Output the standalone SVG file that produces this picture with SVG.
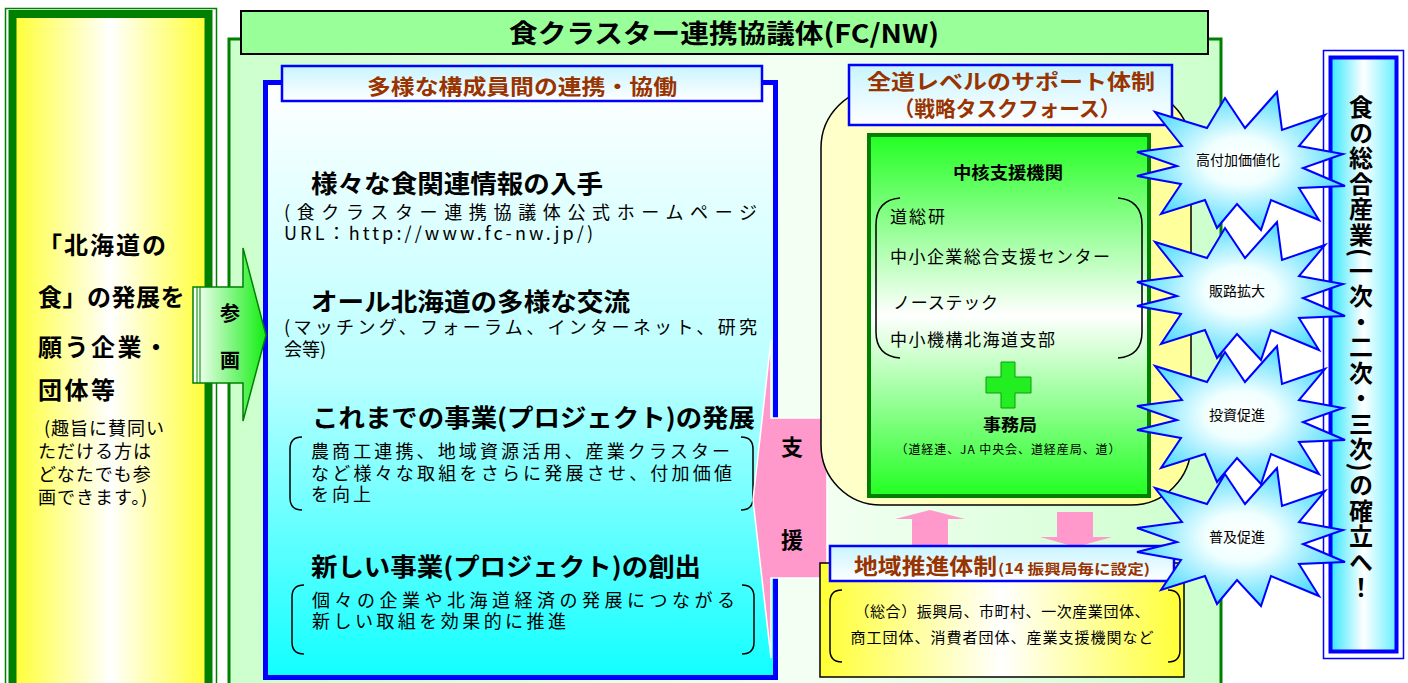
<svg xmlns="http://www.w3.org/2000/svg" width="1408" height="683" viewBox="0 0 1408 683">
<defs>
<linearGradient id="gYel" x1="0" y1="0" x2="1" y2="0"><stop offset="0" stop-color="#ffff33"/><stop offset="0.5" stop-color="#ffffff"/><stop offset="1" stop-color="#ffff33"/></linearGradient>
<linearGradient id="gMain" x1="0" y1="0" x2="1" y2="0"><stop offset="0" stop-color="#ccffcc"/><stop offset="0.58" stop-color="#f4fff4"/><stop offset="1" stop-color="#ccffcc"/></linearGradient>
<linearGradient id="gBlue" x1="0" y1="0" x2="0" y2="1"><stop offset="0" stop-color="#ffffff"/><stop offset="0.5" stop-color="#b8ffff"/><stop offset="1" stop-color="#11ffff"/></linearGradient>
<linearGradient id="gTab" x1="0" y1="0" x2="0" y2="1"><stop offset="0" stop-color="#c8f4ff"/><stop offset="1" stop-color="#ffffff"/></linearGradient>
<linearGradient id="gArrowG" x1="0" y1="0" x2="1" y2="0"><stop offset="0" stop-color="#ffffff"/><stop offset="1" stop-color="#11ee11"/></linearGradient>
<linearGradient id="gRound" x1="0" y1="0" x2="1" y2="0"><stop offset="0" stop-color="#ffffcc"/><stop offset="1" stop-color="#ffff99"/></linearGradient>
<linearGradient id="gGreen" x1="0" y1="0" x2="0" y2="1"><stop offset="0" stop-color="#22ff22"/><stop offset="0.5" stop-color="#ffffff"/><stop offset="1" stop-color="#22ff22"/></linearGradient>
<linearGradient id="gRight" x1="0" y1="0" x2="1" y2="0"><stop offset="0" stop-color="#33e8ff"/><stop offset="0.5" stop-color="#ffffff"/><stop offset="1" stop-color="#66f0ff"/></linearGradient>
<radialGradient id="gStar" cx="0.5" cy="0.5" r="0.5"><stop offset="0" stop-color="#ffffff"/><stop offset="0.35" stop-color="#f0ffff"/><stop offset="1" stop-color="#55dcff"/></radialGradient>
<polygon id="star" points="-100,-8 -55,-14 -82,-48 -30,-32 -12,-62 8,-32 40,-68 45,-30 88,-45 62,-14 106,-6 66,8 108,26 62,28 82,60 34,40 24,70 0,44 -20,68 -32,40 -76,54 -56,24 -100,16 -60,6"/>
</defs>
<style>
text{font-family:"Noto Sans CJK JP","Noto Sans",sans-serif;fill:#000}
.b{font-weight:bold}
.br{font-weight:bold;fill:#993300}
.bk{fill:none;stroke:#000;stroke-width:1.5}
.tab{fill:url(#gTab);stroke:#0000ff;stroke-width:2.5}
.pink{fill:#ff99cc}
.star{fill:url(#gStar);stroke:#0000ff;stroke-width:2}
</style>
<rect width="1408" height="683" fill="#ffffff"/>

<g id="fcnw">
<rect x="229" y="39" width="992" height="660" fill="url(#gMain)" stroke="#008000" stroke-width="3"/>
<rect x="241" y="11" width="967" height="43" fill="#99ff99" stroke="#000" stroke-width="2"/>
<text class="b" x="724" y="43" font-size="26" text-anchor="middle" textLength="430" lengthAdjust="spacingAndGlyphs">食クラスター連携協議体(FC/NW)</text>
</g>

<g id="renkei">
<rect x="265.5" y="82.5" width="510" height="595" fill="url(#gBlue)" stroke="#0000ff" stroke-width="5"/>
<rect x="282" y="66" width="480" height="35" class="tab"/>
<text class="br" x="522" y="94" font-size="21" text-anchor="middle" textLength="310" lengthAdjust="spacingAndGlyphs">多様な構成員間の連携・協働</text>
<text class="b" x="311" y="193" font-size="25" textLength="292" lengthAdjust="spacingAndGlyphs">様々な食関連情報の入手</text>
<text x="284" y="219" font-size="18" textLength="473" lengthAdjust="spacing">(食クラスター連携協議体公式ホームページ</text>
<text x="284" y="240" font-size="18" textLength="309" lengthAdjust="spacing">URL：http://www.fc-nw.jp/)</text>
<text class="b" x="311" y="311" font-size="25" textLength="319" lengthAdjust="spacingAndGlyphs">オール北海道の多様な交流</text>
<text x="284" y="334" font-size="18" textLength="473" lengthAdjust="spacing">(マッチング、フォーラム、インターネット、研究</text>
<text x="284" y="356" font-size="18">会等)</text>
<text class="b" x="312" y="427" font-size="25" textLength="443" lengthAdjust="spacingAndGlyphs">これまでの事業(プロジェクト)の発展</text>
<path class="bk" d="M302,437 Q290,437 290,449 L290,498 Q290,510 302,510"/>
<path class="bk" d="M741,437 Q753,437 753,449 L753,498 Q753,510 741,510"/>
<text x="311" y="458" font-size="18" textLength="419" lengthAdjust="spacing">農商工連携、地域資源活用、産業クラスター</text>
<text x="311" y="480" font-size="18" textLength="421" lengthAdjust="spacing">など様々な取組をさらに発展させ、付加価値</text>
<text x="311" y="501" font-size="18" textLength="60" lengthAdjust="spacing">を向上</text>
<text class="b" x="311" y="576" font-size="25" textLength="390" lengthAdjust="spacingAndGlyphs">新しい事業(プロジェクト)の創出</text>
<path class="bk" d="M304,585 Q292,585 292,597 L292,642 Q292,654 304,654"/>
<path class="bk" d="M742,585 Q754,585 754,597 L754,642 Q754,654 742,654"/>
<text x="312" y="607" font-size="18" textLength="423" lengthAdjust="spacing">個々の企業や北海道経済の発展につながる</text>
<text x="312" y="628" font-size="18" textLength="254" lengthAdjust="spacing">新しい取組を効果的に推進</text>
</g>

<g id="shien">
<polygon class="pink" points="827,418 771,418 771,340 753,500 771,658 771,578 827,578" stroke="#ffffff" stroke-width="1.5"/>
<text class="b" x="792" y="455" font-size="22" text-anchor="middle">支</text>
<text class="b" x="792" y="548" font-size="22" text-anchor="middle">援</text>
</g>

<g id="kigyo">
<rect x="5.5" y="8.5" width="211" height="690" fill="#ffffff" stroke="#008000" stroke-width="1.5"/>
<rect x="12.5" y="14" width="196" height="680" fill="url(#gYel)" stroke="#008000" stroke-width="8"/>
<text class="b" x="38" y="254" font-size="24" letter-spacing="2">「北海道の</text>
<text class="b" x="38" y="306" font-size="24" letter-spacing="0.5">食」の発展を</text>
<text class="b" x="38" y="356" font-size="24" letter-spacing="2.5">願う企業・</text>
<text class="b" x="38" y="399" font-size="24" letter-spacing="2.5">団体等</text>
<text x="44" y="435" font-size="18" letter-spacing="1">(趣旨に賛同い</text>
<text x="38" y="458" font-size="18" letter-spacing="1">ただける方は</text>
<text x="38" y="481" font-size="18" letter-spacing="1">どなたでも参</text>
<text x="38" y="504" font-size="18" letter-spacing="1">画できます。)</text>
</g>

<g id="sanka">
<path d="M193,287 L243,287 L243,248 L266,335 L243,421 L243,383 L193,383 Z" fill="url(#gArrowG)" stroke="#008000" stroke-width="1.5"/>
<line x1="197" y1="287" x2="197" y2="383" stroke="#008000" stroke-width="1"/>
<line x1="200" y1="287" x2="200" y2="383" stroke="#008000" stroke-width="1"/>
<text class="b" x="230" y="321" font-size="20" text-anchor="middle">参</text>
<text class="b" x="230" y="368" font-size="20" text-anchor="middle">画</text>
</g>

<g id="zendo">
<rect x="821" y="88" width="370" height="417" rx="60" ry="60" fill="url(#gRound)" stroke="#000" stroke-width="1.5"/>
<rect x="849" y="65" width="323" height="60" class="tab"/>
<text class="br" x="1011" y="89" font-size="21" text-anchor="middle" textLength="288" lengthAdjust="spacingAndGlyphs">全道レベルのサポート体制</text>
<text class="br" x="1007" y="116" font-size="21" text-anchor="middle" textLength="227" lengthAdjust="spacingAndGlyphs">（戦略タスクフォース）</text>
</g>

<g id="chukaku">
<rect x="869" y="135" width="280" height="361" fill="url(#gGreen)" stroke="#008000" stroke-width="4"/>
<text class="b" x="1008" y="179" font-size="17" text-anchor="middle" textLength="110" lengthAdjust="spacingAndGlyphs">中核支援機関</text>
<path class="bk" d="M900,198 Q876,200 876,225 L876,332 Q876,356 900,358"/>
<path class="bk" d="M1118,198 Q1142,200 1142,225 L1142,332 Q1142,356 1118,358"/>
<text x="890" y="223" font-size="17" textLength="55" lengthAdjust="spacing">道総研</text>
<text x="890" y="263" font-size="17" textLength="220" lengthAdjust="spacing">中小企業総合支援センター</text>
<text x="893" y="309" font-size="17" textLength="105" lengthAdjust="spacing">ノーステック</text>
<text x="890" y="346" font-size="17" textLength="165" lengthAdjust="spacing">中小機構北海道支部</text>
<path d="M1001,362 L1015,362 L1015,377 L1031,377 L1031,393 L1015,393 L1015,408 L1001,408 L1001,393 L986,393 L986,377 L1001,377 Z" fill="#22ee22" stroke="#119911" stroke-width="1"/>
<text class="b" x="1010" y="431" font-size="17" text-anchor="middle" textLength="54" lengthAdjust="spacingAndGlyphs">事務局</text>
<text x="1008" y="454" font-size="12" text-anchor="middle" textLength="225" lengthAdjust="spacing">（道経連、JA 中央会、道経産局、道）</text>
</g>

<g id="connectors">
<polygon class="pink" points="912,560 912,519 895,519 930,510 965,519 948,519 948,560"/>
<polygon class="pink" points="1057,512 1093,512 1093,537 1112,537 1076,547 1040,537 1057,537"/>
</g>

<g id="chiiki">
<rect x="820" y="563" width="364" height="114" fill="url(#gYel)" stroke="#000" stroke-width="1.5"/>
<rect x="830" y="546" width="344" height="35" class="tab"/>
<text class="br" x="854" y="574" font-size="22" textLength="143" lengthAdjust="spacingAndGlyphs">地域推進体制</text>
<text class="br" x="998" y="574" font-size="14" textLength="152" lengthAdjust="spacingAndGlyphs">(14 振興局毎に設定)</text>
<path class="bk" d="M842,590 Q830,590 830,602 L830,650 Q830,662 842,662"/>
<path class="bk" d="M1168,590 Q1180,590 1180,602 L1180,650 Q1180,662 1168,662"/>
<text x="1002" y="617" font-size="15" text-anchor="middle" textLength="295" lengthAdjust="spacing">（総合）振興局、市町村、一次産業団体、</text>
<text x="1002" y="643" font-size="15" text-anchor="middle" textLength="303" lengthAdjust="spacing">商工団体、消費者団体、産業支援機関など</text>
</g>

<g id="kakuritsu">
<rect x="1323.5" y="50.5" width="80" height="608" fill="#ffffff" stroke="#0000ff" stroke-width="1.5"/>
<rect x="1330.5" y="57.5" width="66" height="594" fill="url(#gRight)" stroke="#0000ff" stroke-width="4"/>
<text class="b" x="1361" y="95" font-size="24" letter-spacing="1.5" style="writing-mode:vertical-rl">食の総合産業(一次・二次・三次)の確立へ！</text>
</g>

<g id="star1"><use href="#star" class="star" transform="translate(1237,160)"/><text x="1238" y="165" font-size="14" text-anchor="middle">高付加価値化</text></g>
<g id="star2"><use href="#star" class="star" transform="translate(1237,290)"/><text x="1237" y="296" font-size="14" text-anchor="middle">販路拡大</text></g>
<g id="star3"><use href="#star" class="star" transform="translate(1237,414)"/><text x="1237" y="420" font-size="14" text-anchor="middle">投資促進</text></g>
<g id="star4"><use href="#star" class="star" transform="translate(1237,536)"/><text x="1237" y="542" font-size="14" text-anchor="middle">普及促進</text></g>
</svg>
